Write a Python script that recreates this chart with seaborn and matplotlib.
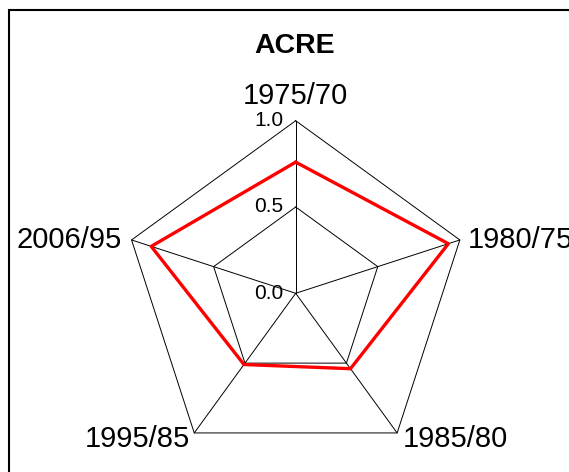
import numpy as np
import pandas as pd
import matplotlib
matplotlib.use("Agg")
import matplotlib.pyplot as plt
from matplotlib.patches import Rectangle
import seaborn as sns

# dane wykresu
title = "ACRE"
categories = ["1975/70", "1980/75", "1985/80", "1995/85", "2006/95"]
values = [0.76, 0.93, 0.54, 0.51, 0.88]
grid_levels = [0.5, 1.0]
tick_values = [0.0, 0.5, 1.0]
tick_labels = ["0.0", "0.5", "1.0"]

sns.set_style("white")
plt.rcParams['font.family'] = ['Liberation Sans', 'DejaVu Sans']
plt.rcParams['text.color'] = 'black'

W, H = 569, 472
fig = plt.figure(figsize=(W / 100, H / 100), dpi=100)
ax = fig.add_axes([0, 0, 1, 1])

# srodek i promien w pikselach
cx, cy, R = 295.7, 293.3, 172.6
ax.set_xlim(-cx / R, (W - cx) / R)
ax.set_ylim(-(H - cy) / R, cy / R)
ax.axis('off')

n = len(categories)
angles = np.arange(n) * 2 * np.pi / n  # zgodnie z ruchem wskazowek, od gory
ux, uy = np.sin(angles), np.cos(angles)
ux_c, uy_c = np.append(ux, ux[0]), np.append(uy, uy[0])

# szprychy i siatka
for i in range(n):
    ax.plot([0, ux[i]], [0, uy[i]], color='black', lw=0.7)
for lv in grid_levels:
    ax.plot(ux_c * lv, uy_c * lv, color='black', lw=0.7)

# linia danych
df = pd.DataFrame({'r': values + values[:1]})
df['x'] = df['r'] * ux_c
df['y'] = df['r'] * uy_c
sns.lineplot(data=df, x='x', y='y', sort=False, estimator=None,
             color='red', lw=2.4, ax=ax)
ax.set_xlabel('')
ax.set_ylabel('')

# etykiety kategorii
offsets = [((0, 16.7), 'center'), ((7.7, -8), 'left'), ((5.3, -13.7), 'left'),
           ((-4.6, -13.7), 'right'), ((-9.3, -8), 'right')]
for i, cat in enumerate(categories):
    (dx, dy), ha = offsets[i]
    ax.annotate(cat, (ux[i], uy[i]), xytext=(dx, dy), textcoords='offset pixels',
                ha=ha, va='baseline', fontsize=21, color='black')

# etykiety skali
for tv, tl in zip(tick_values, tick_labels):
    ax.annotate(tl, (0, tv), xytext=(-12.7, -5.3), textcoords='offset pixels',
                ha='right', va='baseline', fontsize=15, color='black')

fig.text(294.5 / W, 1 - 53.3 / H, title, ha='center', va='baseline',
         fontsize=20.5, fontweight='bold', color='black')

# ramka
fig.patches.append(Rectangle((9 / W, -0.1), 1.2, 1.1 - 10 / H, transform=fig.transFigure,
                             fill=False, edgecolor='black', lw=1.5))

fig.savefig("out.png", dpi=100)
